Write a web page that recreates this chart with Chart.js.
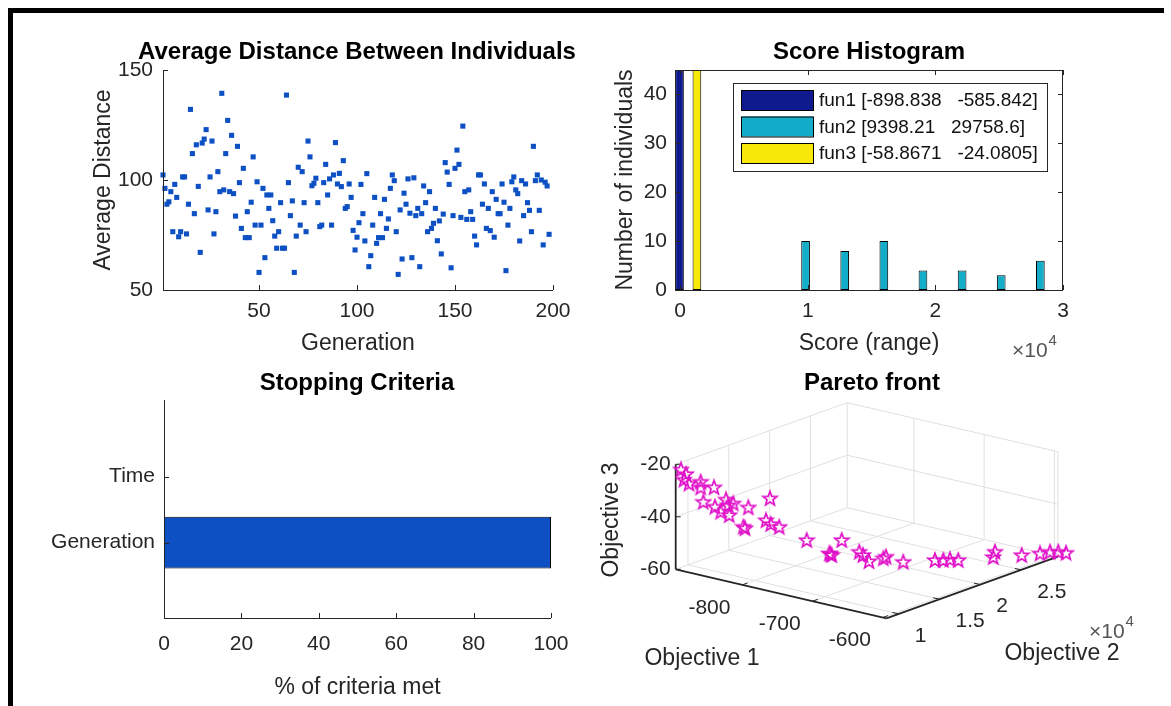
<!DOCTYPE html>
<html>
<head>
<meta charset="utf-8">
<script src="https://cdn.jsdelivr.net/npm/chart.js@4.4.0/dist/chart.umd.min.js"></script>
<style>
  html, body { margin: 0; padding: 0; background: #fff; }
  #fig { position: relative; width: 1171px; height: 706px; overflow: hidden; background: #fff; }
  #fig canvas { position: absolute; left: 0; top: 0; }
  #frameTop { position: absolute; left: 8px; top: 8px; width: 1156px; height: 5px; background: #000; }
  #frameLeft { position: absolute; left: 8px; top: 8px; width: 5px; height: 698px; background: #000; }
</style>
</head>
<body>
<div id="fig">
  <canvas id="cDist" width="1171" height="706"></canvas>
  <canvas id="cHist" width="1171" height="706"></canvas>
  <canvas id="cStop" width="1171" height="706"></canvas>
  <canvas id="cPareto" width="1171" height="706"></canvas>
  <div id="frameTop"></div>
  <div id="frameLeft"></div>
</div>
<script>
// ---------------- data ----------------
// average distance between individuals, generations 1..n
const avgDistance = [
  102.3, 96.2, 89.0, 90.1, 94.7, 76.5, 98.0, 92.1, 74.2, 76.5,
  101.4, 101.4, 75.5, 89.0, 132.1, 112.0, 84.7, 116.0, 97.1, 67.1,
  116.8, 118.6, 122.9, 86.4, 101.4, 117.7, 75.5, 85.6, 103.8, 94.7,
  139.4, 95.5, 112.0, 127.1, 94.7, 120.3, 93.8, 83.6, 115.3, 98.8,
  78.0, 105.3, 73.8, 85.6, 73.8, 89.9, 110.5, 79.5, 99.2, 58.0,
  79.5, 96.2, 64.7, 93.2, 87.1, 93.2, 81.5, 74.5, 69.0, 76.5,
  89.7, 69.0, 69.0, 138.6, 98.8, 83.8, 90.5, 58.0, 74.5, 105.8,
  79.5, 103.8, 89.7, 76.5, 117.7, 110.5, 97.4, 98.5, 100.8, 89.7,
  78.8, 79.5, 98.8, 107.1, 93.2, 100.5, 79.5, 102.3, 117.0, 98.2,
  103.0, 97.0, 108.8, 87.1, 87.9, 98.2, 92.1, 77.1, 68.2, 74.0,
  80.6, 98.0, 84.7, 72.3, 102.9, 60.6, 65.6, 79.5, 92.1, 71.2,
  73.8, 84.7, 73.8, 91.2, 78.0, 82.3, 96.2, 102.3, 99.7, 76.5,
  57.1, 86.4, 64.1, 94.0, 89.0, 100.5, 84.9, 64.7, 101.0, 83.8,
  87.1, 60.6, 84.7, 97.3, 89.7, 76.5, 94.7, 78.0, 80.3, 87.1,
  72.4, 81.4, 66.4, 84.5, 107.9, 103.6, 98.0, 60.1, 83.8,
  105.3, 113.6, 107.1, 83.0, 124.5, 94.7, 82.1, 95.5, 85.6, 82.1,
  74.5, 70.5, 102.3, 102.3, 89.0, 98.2, 78.0, 87.1, 77.0, 94.7,
  74.0, 91.2, 84.7, 84.7, 98.2, 89.9, 58.8, 79.5, 87.1, 99.2,
  101.4, 95.5, 93.8, 72.3, 99.7, 83.8, 98.2, 89.7, 86.2, 76.5,
  115.3, 99.7, 102.3, 86.2, 100.0, 70.5, 99.0, 97.3, 75.3
];
const generationTicks = [50, 100, 150, 200];
const distanceTicks = [50, 100, 150];

// score histogram: 10 bins over the combined score range
const scoreBinCenters = [634.03, 3699.78, 6765.52, 9831.27, 12897.01, 15962.76, 19028.50, 22094.24, 25159.99, 28225.73];
const fun1Counts = [45, 0, 0, 0, 0, 0, 0, 0, 0, 0];
const fun2Counts = [0, 0, 0, 10, 8, 10, 4, 4, 3, 6];
const fun3Counts = [45, 0, 0, 0, 0, 0, 0, 0, 0, 0];
const fun1Range = ['-898.838', '-585.842'];
const fun2Range = ['9398.21', '29758.6'];
const fun3Range = ['-58.8671', '-24.0805'];
const scoreTicks = [0, 10000, 20000, 30000];
const scoreTickLabels = ['0', '1', '2', '3'];
const countTicks = [0, 10, 20, 30, 40];

// stopping criteria
const stopCriteria = ['Generation', 'Time'];
const stopPercent = [100, 0];
const percentTicks = [0, 20, 40, 60, 80, 100];

// Pareto front (objective values of the front members)
const paretoObj1 = [
  -890.8, -886.9, -888.5, -884.6, -875.4, -875.4, -864.9, -873.3, -864.2, -859.7,
  -855.5, -853.7, -852.9, -849.8, -841.9, -840.6, -838.0, -821.0, -824.1, -820.4,
  -813.7, -792.2, -774.4, -772.5, -773.5, -764.7, -750.9, -748.0, -743.3, -732.0,
  -729.9, -716.4, -691.5, -684.9, -679.7, -673.2, -645.7, -644.4, -623.4, -609.0,
  -601.2, -594.7, -586.2
];
const paretoObj2 = [
  8792, 9067, 8955, 9231, 9874, 9874, 10604, 10016, 10659, 10971,
  11263, 11389, 11444, 11664, 12215, 12308, 12490, 13681, 13462, 13720,
  14193, 15699, 16940, 17072, 17005, 17621, 18589, 18792, 19122, 19907,
  20054, 21006, 22747, 23204, 23571, 24028, 25951, 26044, 27512, 28518,
  29066, 29521, 29740
];
const paretoObj3 = [
  -22.0, -23.8, -25.9, -27.5, -26.9, -29.1, -29.2, -34.6, -36.6, -38.6,
  -34.0, -36.2, -40.0, -35.6, -44.6, -45.2, -37.3, -34.1, -42.4, -43.9,
  -45.1, -50.5, -55.8, -56.5, -56.1, -50.9, -55.6, -56.9, -59.3, -58.4,
  -57.8, -60.0, -59.7, -59.8, -59.6, -60.0, -59.3, -57.3, -58.9, -58.5,
  -58.0, -58.1, -58.2
];
const obj1Ticks = [-800, -700, -600];
const obj2Ticks = [10000, 15000, 20000, 25000];
const obj2TickLabels = ['1', '1.5', '2', '2.5'];
const obj3Ticks = [-60, -40, -20];

// ---------------- styling ----------------
const FONT = '"Liberation Sans", Arial, Helvetica, sans-serif';
const TXT = '#262626';
const AXC = '#262626';
const BLUE = '#0c50c4';
const TICK_PX = 21, LABEL_PX = 23, TITLE_PX = 24;

Chart.defaults.font.family = FONT;
Chart.defaults.color = TXT;

function text(ctx, s, x, y, opt = {}) {
  ctx.save();
  ctx.font = opt.font || (LABEL_PX + 'px ' + FONT);
  ctx.fillStyle = opt.color || TXT;
  ctx.textAlign = opt.align || 'center';
  ctx.textBaseline = opt.base || 'middle';
  ctx.translate(x, y);
  if (opt.rot) ctx.rotate(opt.rot);
  ctx.fillText(s, 0, 0);
  ctx.restore();
}
function line(ctx, x1, y1, x2, y2, color, w) {
  ctx.save();
  ctx.strokeStyle = color; ctx.lineWidth = w || 1;
  ctx.beginPath(); ctx.moveTo(x1, y1); ctx.lineTo(x2, y2); ctx.stroke();
  ctx.restore();
}
function timesTenFour(ctx, x, y) {
  ctx.save(); ctx.font = '21px ' + FONT; const w = ctx.measureText('\u00d710').width; ctx.restore();
  text(ctx, '\u00d710', x, y, { font: '21px ' + FONT, align: 'left', color: '#555' });
  text(ctx, '4', x + w + 1, y - 10, { font: '15px ' + FONT, align: 'left', color: '#555' });
}
const tickFont = { family: FONT, size: TICK_PX };
const fixW = w => s => { s.width = w; };
const fixH = h => s => { s.height = h; };
const setTicks = arr => s => { s.ticks = arr.map(v => ({ value: v })); };
const baseOpts = {
  responsive: false, animation: false, events: [],
  plugins: { legend: { display: false }, tooltip: { enabled: false } }
};

// draws axis lines with inward tick marks, plus title and axis labels
function axesDecor(cfg) {
  return {
    id: 'axesDecor',
    afterDatasetsDraw(chart) {
      const { ctx, chartArea: a, scales } = chart;
      const xs = scales.x, ys = scales.y, tl = 5;
      line(ctx, a.left, a.bottom + 0.5, a.right, a.bottom + 0.5, AXC, 1);
      line(ctx, a.left + 0.5, a.top, a.left + 0.5, a.bottom, AXC, 1);
      if (cfg.box) {
        line(ctx, a.left, a.top + 0.5, a.right, a.top + 0.5, AXC, 1);
        line(ctx, a.right - 0.5, a.top, a.right - 0.5, a.bottom, AXC, 1);
      }
      xs.ticks.forEach(t => {
        const px = Math.round(xs.getPixelForValue(t.value)) + 0.5;
        line(ctx, px, a.bottom, px, a.bottom - tl, AXC, 1);
        if (cfg.box) line(ctx, px, a.top, px, a.top + tl, AXC, 1);
      });
      ys.ticks.forEach(t => {
        const py = Math.round(ys.getPixelForValue(t.value)) + 0.5;
        line(ctx, a.left, py, a.left + tl, py, AXC, 1);
        if (cfg.box) line(ctx, a.right, py, a.right - tl, py, AXC, 1);
      });
      const cx = (a.left + a.right) / 2;
      text(ctx, cfg.title, cx + (cfg.titleDx || 0), cfg.titleY, { font: 'bold ' + TITLE_PX + 'px ' + FONT, color: '#000' });
      if (cfg.xlabel) text(ctx, cfg.xlabel, cx + (cfg.xlabelDx || 0), cfg.xlabelY);
      if (cfg.ylabel) text(ctx, cfg.ylabel, cfg.ylabelX, (a.top + a.bottom) / 2, { rot: -Math.PI / 2 });
      if (cfg.extra) cfg.extra(chart);
    }
  };
}

// ---------------- 1. average distance ----------------
new Chart(document.getElementById('cDist'), {
  type: 'scatter',
  data: {
    datasets: [{
      data: avgDistance.map((v, i) => ({ x: i + 1, y: v })),
      pointStyle: 'rect', radius: 3.6, borderWidth: 0,
      backgroundColor: BLUE, clip: false
    }]
  },
  options: Object.assign({}, baseOpts, {
    layout: { autoPadding: false, padding: { left: 163 - 60, top: 70, right: 1171 - 553, bottom: 706 - 290 - 40 } },
    scales: {
      x: {
        type: 'linear', min: 1, max: 200, afterFit: fixH(40), afterBuildTicks: setTicks(generationTicks),
        grid: { display: false, drawTicks: false }, border: { display: false },
        ticks: { font: tickFont, color: TXT, padding: 9, maxRotation: 0, autoSkip: false }
      },
      y: {
        type: 'linear', min: 50, max: 150, afterFit: fixW(60), afterBuildTicks: setTicks(distanceTicks),
        grid: { display: false, drawTicks: false }, border: { display: false },
        ticks: { font: tickFont, color: TXT, padding: 10, autoSkip: false }
      }
    }
  }),
  plugins: [axesDecor({
    title: 'Average Distance Between Individuals', titleY: 52, titleDx: -1,
    xlabel: 'Generation', xlabelY: 344, ylabel: 'Average Distance', ylabelX: 104
  })]
});

// ---------------- 2. score histogram ----------------
const histColors = ['#0f1a8e', '#14adc9', '#f7e80a'];
const histLegend = {
  id: 'histLegend',
  afterDatasetsDraw(chart) {
    const ctx = chart.ctx;
    const bx = 733, by = 83, bw = 314, bh = 88;
    ctx.save();
    ctx.fillStyle = '#fff'; ctx.fillRect(bx, by, bw, bh);
    ctx.strokeStyle = AXC; ctx.lineWidth = 1; ctx.strokeRect(bx + 0.5, by + 0.5, bw, bh);
    chart.data.datasets.forEach((ds, i) => {
      const cy = 100 + i * 26.5;
      ctx.fillStyle = ds.backgroundColor;
      ctx.fillRect(741, cy - 10, 72, 20);
      ctx.strokeStyle = '#000'; ctx.lineWidth = 1;
      ctx.strokeRect(741.5, cy - 9.5, 72, 20);
      text(ctx, ds.label, 819, cy + 1, { font: '19px ' + FONT, align: 'left', color: '#111' });
    });
    ctx.restore();
  }
};
new Chart(document.getElementById('cHist'), {
  type: 'bar',
  data: {
    datasets: [
      { label: 'fun1 [' + fun1Range[0] + '   ' + fun1Range[1] + ']', data: scoreBinCenters.map((c, i) => ({ x: c, y: fun1Counts[i] })), backgroundColor: histColors[0] },
      { label: 'fun2 [' + fun2Range[0] + '   ' + fun2Range[1] + ']', data: scoreBinCenters.map((c, i) => ({ x: c, y: fun2Counts[i] })), backgroundColor: histColors[1] },
      { label: 'fun3 [' + fun3Range[0] + '   ' + fun3Range[1] + ']', data: scoreBinCenters.map((c, i) => ({ x: c, y: fun3Counts[i] })), backgroundColor: histColors[2] }
    ]
  },
  options: Object.assign({}, baseOpts, {
    datasets: { bar: { borderColor: '#000', borderWidth: 1, borderSkipped: false, categoryPercentage: 0.667, barPercentage: 1.0 } },
    layout: { autoPadding: false, padding: { left: 675 - 60, top: 70, right: 1171 - 1063, bottom: 706 - 290 - 40 } },
    scales: {
      x: {
        type: 'linear', min: -400, max: 30000, offset: false, afterFit: fixH(40), afterBuildTicks: setTicks(scoreTicks),
        grid: { display: false, drawTicks: false, offset: false }, border: { display: false },
        ticks: { font: tickFont, color: TXT, padding: 9, maxRotation: 0, autoSkip: false,
                 callback: v => scoreTickLabels[scoreTicks.indexOf(v)] }
      },
      y: {
        type: 'linear', min: 0, max: 45, afterFit: fixW(60), afterBuildTicks: setTicks(countTicks),
        grid: { display: false, drawTicks: false }, border: { display: false },
        ticks: { font: tickFont, color: TXT, padding: 8, autoSkip: false }
      }
    }
  }),
  plugins: [axesDecor({
    box: true, title: 'Score Histogram', titleY: 52,
    xlabel: 'Score (range)', xlabelY: 344, ylabel: 'Number of individuals', ylabelX: 626,
    extra: chart => timesTenFour(chart.ctx, 1012, 351)
  }), histLegend]
});

// ---------------- 3. stopping criteria ----------------
new Chart(document.getElementById('cStop'), {
  type: 'bar',
  data: {
    datasets: [{
      data: stopPercent.map((v, i) => ({ x: v, y: i + 1 })),
      backgroundColor: BLUE, borderColor: '#000', borderWidth: 1, borderSkipped: false,
      categoryPercentage: 0.8, barPercentage: 0.98
    }]
  },
  options: Object.assign({}, baseOpts, {
    indexAxis: 'y',
    layout: { autoPadding: false, padding: { left: 164 - 120, top: 400, right: 1171 - 551, bottom: 706 - 618 - 40 } },
    scales: {
      x: {
        type: 'linear', min: 0, max: 100, afterFit: fixH(40), afterBuildTicks: setTicks(percentTicks),
        grid: { display: false, drawTicks: false }, border: { display: false },
        ticks: { font: tickFont, color: TXT, padding: 14, maxRotation: 0, autoSkip: false }
      },
      y: {
        type: 'linear', min: -0.14, max: 3.16, offset: false, afterFit: fixW(120), afterBuildTicks: setTicks([1, 2]),
        grid: { display: false, drawTicks: false, offset: false }, border: { display: false },
        ticks: { font: tickFont, color: TXT, padding: 9, autoSkip: false,
                 callback: v => stopCriteria[v - 1] }
      }
    }
  }),
  plugins: [axesDecor({
    title: 'Stopping Criteria', titleY: 383, titleDx: -0.5,
    xlabel: '% of criteria met', xlabelY: 688
  })]
});

// ---------------- 4. Pareto front (3-D view) ----------------
const lim1 = [-895, -595], lim2 = [8500, 29500], lim3 = [-60, -20];
const view = { ox: 675.7, oy: 569.3, ex: [210.7, 49], ey: [171.5, -61.6], ez: [0, -105] };
function project(o1, o2, o3) {
  const a = (o1 - lim1[0]) / (lim1[1] - lim1[0]);
  const b = (o2 - lim2[0]) / (lim2[1] - lim2[0]);
  const c = (o3 - lim3[0]) / (lim3[1] - lim3[0]);
  return {
    x: view.ox + a * view.ex[0] + b * view.ey[0] + c * view.ez[0],
    y: view.oy + a * view.ex[1] + b * view.ey[1] + c * view.ez[1]
  };
}
function starMarker(color) {
  const c = document.createElement('canvas');
  c.width = 18; c.height = 18;
  const g = c.getContext('2d');
  g.strokeStyle = color; g.lineWidth = 1.7; g.lineJoin = 'miter';
  g.beginPath();
  for (let k = 0; k < 10; k++) {
    const r = k % 2 === 0 ? 7.4 : 3.1;
    const ang = -Math.PI / 2 + k * Math.PI / 5;
    const x = 9 + r * Math.cos(ang), y = 9.6 + r * Math.sin(ang);
    if (k === 0) g.moveTo(x, y); else g.lineTo(x, y);
  }
  g.closePath(); g.stroke();
  return c;
}
const pareto3d = {
  id: 'pareto3d',
  beforeDatasetsDraw(chart) {
    const { ctx, scales: { x: sx, y: sy } } = chart;
    const P = (o1, o2, o3) => { const p = project(o1, o2, o3); return [sx.getPixelForValue(p.x), sy.getPixelForValue(p.y)]; };
    const L = (p, q, col, w) => line(ctx, p[0], p[1], q[0], q[1], col, w);
    const G = '#e0e0e0';
    const [x0, x1] = lim1, [y0, y1] = lim2, [z0, z1] = lim3;
    // grid on floor and back walls
    obj1Ticks.forEach(v => { L(P(v, y0, z0), P(v, y1, z0), G); L(P(v, y1, z0), P(v, y1, z1), G); });
    obj2Ticks.forEach(v => { L(P(x0, v, z0), P(x1, v, z0), G); L(P(x0, v, z0), P(x0, v, z1), G); });
    obj3Ticks.forEach(v => { L(P(x0, y0, v), P(x0, y1, v), G); L(P(x0, y1, v), P(x1, y1, v), G); });
    L(P(x0, y1, z0), P(x0, y1, z1), G);
    L(P(x1, y1, z0), P(x1, y1, z1), G);
    // axis lines
    L(P(x0, y0, z0), P(x0, y0, z1), AXC, 1.8);
    L(P(x0, y0, z0), P(x1, y0, z0), AXC, 1.8);
    L(P(x1, y0, z0), P(x1, y1, z0), AXC, 1.8);
    // ticks and labels
    obj3Ticks.forEach(v => {
      const p = P(x0, y0, v);
      L(p, [p[0] + 5, p[1]], AXC, 1);
      text(ctx, String(v), p[0] - 5, p[1], { font: TICK_PX + 'px ' + FONT, align: 'right' });
    });
    obj1Ticks.forEach(v => {
      const p = P(v, y0, z0), q = P(v, y0 + (y1 - y0) * 0.03, z0);
      L(p, q, AXC, 1);
      text(ctx, String(v), p[0] - 33, p[1] + 23, { font: TICK_PX + 'px ' + FONT });
    });
    obj2Ticks.forEach((v, i) => {
      const p = P(x1, v, z0), q = P(x1 - (x1 - x0) * 0.03, v, z0);
      L(p, q, AXC, 1);
      text(ctx, obj2TickLabels[i], p[0] + 16, p[1] + 22, { font: TICK_PX + 'px ' + FONT, align: 'left' });
    });
    timesTenFour(ctx, 1089, 632);
    text(ctx, 'Objective 1', 702, 659);
    text(ctx, 'Objective 2', 1062, 654);
    text(ctx, 'Objective 3', 612, 520, { rot: -Math.PI / 2 });
    text(ctx, 'Pareto front', 872, 383, { font: 'bold ' + TITLE_PX + 'px ' + FONT, color: '#000' });
  }
};
new Chart(document.getElementById('cPareto'), {
  type: 'scatter',
  data: {
    datasets: [{
      data: paretoObj1.map((o1, i) => project(o1, paretoObj2[i], paretoObj3[i])),
      pointStyle: starMarker('#e010c8'), radius: 8, clip: false
    }]
  },
  options: Object.assign({}, baseOpts, {
    layout: { autoPadding: false, padding: 0 },
    scales: {
      x: { type: 'linear', min: 0, max: 1171, display: false },
      y: { type: 'linear', min: 0, max: 706, reverse: true, display: false }
    }
  }),
  plugins: [pareto3d]
});
</script>
</body>
</html>
